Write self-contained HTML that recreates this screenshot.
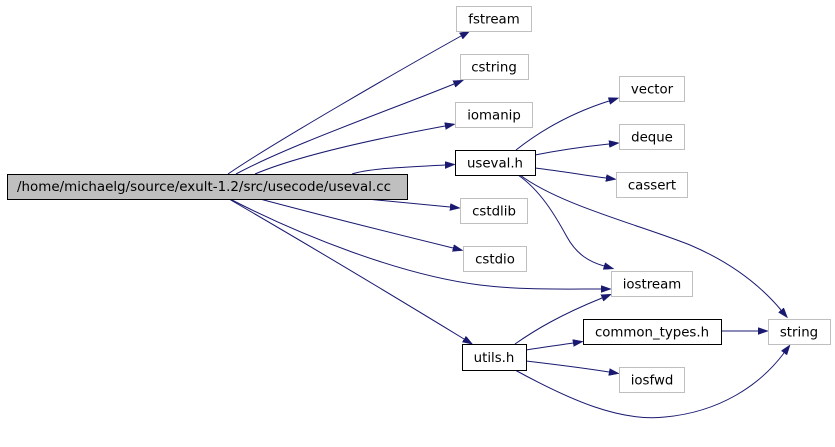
<!DOCTYPE html>
<html><head><meta charset="utf-8"><style>
html,body{margin:0;padding:0;background:#fff;}
svg{display:block;}
text{font-family:"DejaVu Sans","Liberation Sans",sans-serif;font-size:13.33px;fill:#000;}
</style></head><body>
<svg width="835" height="447" viewBox="0 0 835 447" xmlns="http://www.w3.org/2000/svg">
<defs>
<marker id="a" markerWidth="11" markerHeight="8" refX="0" refY="3.5" orient="auto" markerUnits="userSpaceOnUse">
<path d="M0,0 L10,3.5 L0,7 z" fill="#191970" stroke="#191970" stroke-width="0.5"/>
</marker>
</defs>
<g fill="none" stroke="#191970" stroke-width="1" marker-end="url(#a)">
<path d="M228,174 C270,145 400,70 461,36"/>
<path d="M236,174 C290,145 390,110 454,84"/>
<path d="M255,174 C300,155 380,138 445,126"/>
<path d="M352,174 C370,168 410,167 445,165"/>
<path d="M367,199 C390,201 420,204 450,207"/>
<path d="M260,199 C320,215 400,235 453,248"/>
<path d="M230,199 C300,235 400,275 480,285 C520,290 560,289 601,289"/>
<path d="M229,199 C300,240 400,300 464,339"/>
<path d="M516,150 C535,135 565,115 609,101"/>
<path d="M535,155 C560,150 590,146 609,144"/>
<path d="M535,168 C560,171 590,176 606,178"/>
<path d="M518,175 C540,190 555,215 567,237 C577,255 590,262 604,266"/>
<path d="M520,175 C560,205 640,225 690,245 C730,262 760,285 781,310"/>
<path d="M515,344 C535,330 560,315 602,298"/>
<path d="M526,350 C545,347 560,345 573,343"/>
<path d="M526,361 C560,365 590,369 609,372"/>
<path d="M515,370 C570,400 620,422 665,417 C720,412 760,385 784,353"/>
<path d="M721,331 L758,331"/>
</g>
<g stroke-width="1">
<rect x="7.5" y="174.5" width="400" height="25" fill="#bfbfbf" stroke="#000"/>
<rect x="456.5" y="6.5" width="75" height="25" fill="#fff" stroke="#bfbfbf"/>
<rect x="460.5" y="54.5" width="68" height="25" fill="#fff" stroke="#bfbfbf"/>
<rect x="455.5" y="102.5" width="77" height="25" fill="#fff" stroke="#bfbfbf"/>
<rect x="455.5" y="150.5" width="80" height="25" fill="#fff" stroke="#000"/>
<rect x="619.5" y="76.5" width="65" height="25" fill="#fff" stroke="#bfbfbf"/>
<rect x="619.5" y="124.5" width="65" height="25" fill="#fff" stroke="#bfbfbf"/>
<rect x="616.5" y="172.5" width="71" height="25" fill="#fff" stroke="#bfbfbf"/>
<rect x="460.5" y="198.5" width="67" height="25" fill="#fff" stroke="#bfbfbf"/>
<rect x="463.5" y="246.5" width="63" height="25" fill="#fff" stroke="#bfbfbf"/>
<rect x="611.5" y="271.5" width="81" height="25" fill="#fff" stroke="#bfbfbf"/>
<rect x="583.5" y="319.5" width="138" height="25" fill="#fff" stroke="#000"/>
<rect x="768.5" y="319.5" width="62" height="25" fill="#fff" stroke="#bfbfbf"/>
<rect x="462.5" y="344.5" width="64" height="26" fill="#fff" stroke="#000"/>
<rect x="619.5" y="367.5" width="65" height="25" fill="#fff" stroke="#bfbfbf"/>
</g>
<text x="17" y="191" textLength="374" lengthAdjust="spacingAndGlyphs">/home/michaelg/source/exult-1.2/src/usecode/useval.cc</text>
<g text-anchor="middle">
<text x="494" y="23.5">fstream</text>
<text x="494" y="71.5">cstring</text>
<text x="494" y="119.5">iomanip</text>
<text x="495" y="167.5">useval.h</text>
<text x="652" y="93.5">vector</text>
<text x="652" y="141.5">deque</text>
<text x="652" y="189.5">cassert</text>
<text x="494" y="215.5">cstdlib</text>
<text x="495" y="263.5">cstdio</text>
<text x="652" y="288.5">iostream</text>
<text x="652" y="336.5">common_types.h</text>
<text x="799" y="336.5">string</text>
<text x="494" y="362">utils.h</text>
<text x="652" y="384.5">iosfwd</text>
</g>
</svg>
</body></html>
